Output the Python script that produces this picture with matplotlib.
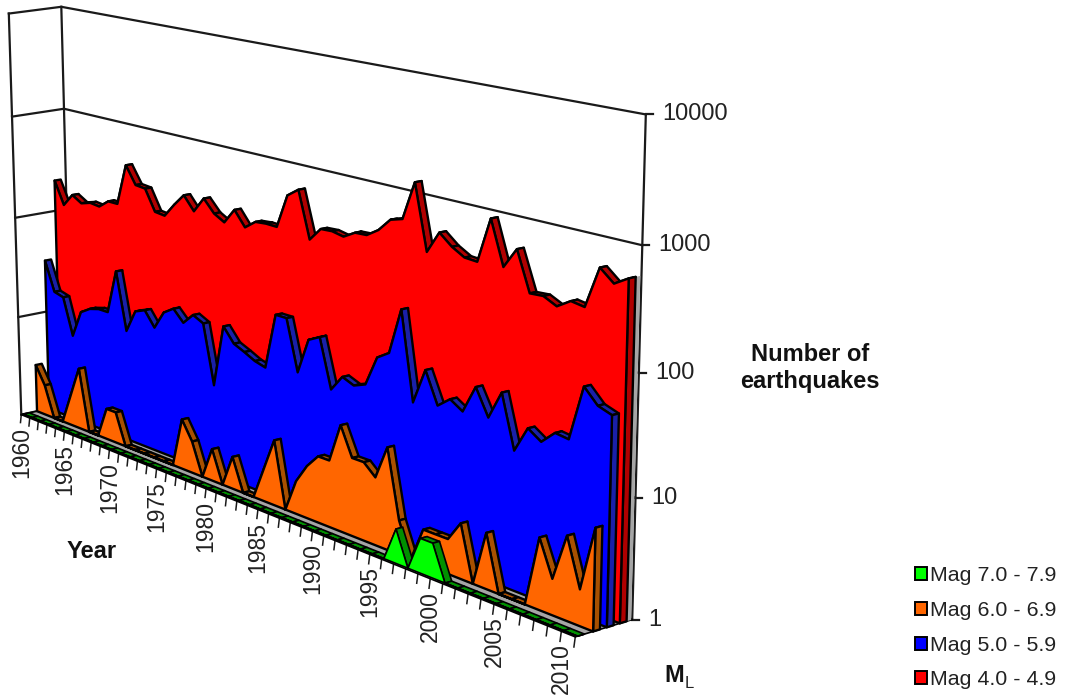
import numpy as np
import matplotlib
matplotlib.use('Agg')
from matplotlib import pyplot as plt
from matplotlib.patches import Patch

plt.rcParams['font.family'] = ['Liberation Sans', 'DejaVu Sans']

years = list(range(1960, 2012))
label_years = [1960, 1965, 1970, 1975, 1980, 1985, 1990, 1995, 2000, 2005, 2010]
count_ticks = [1, 10, 100, 1000, 10000]

mag7 = [1] * 37 + [2, 1, 2, 2] + [1] * 11
mag6 = [3, 2, 1, 1, 2, 4, 1, 1, 2, 2,
        1, 1, 1, 1, 1, 1, 3, 2, 1, 2,
        1, 2, 1, 1, 2, 4, 1, 2, 3, 4,
        4, 9, 5, 5, 4, 8, 2, 1, 2, 2,
        2, 3, 1, 3, 1, 1, 1, 4, 2, 5,
        2, 7]
mag5 = [33, 17, 16, 7, 13, 15, 16, 16, 43, 12,
        20, 22, 16, 24, 28, 22, 28, 25, 7, 27,
        20, 18, 16, 15, 49, 49, 17, 36, 41, 15,
        21, 19, 21, 39, 46, 117, 20, 41, 22, 27,
        23, 40, 24, 42, 15, 25, 21, 27, 26, 75,
        57, 52]
mag4 = [201, 121, 161, 141, 151, 147, 175, 175, 437, 298,
        291, 185, 180, 242, 315, 236, 329, 253, 222, 307,
        225, 268, 274, 272, 552, 656, 251, 331, 336, 320,
        368, 373, 438, 569, 612, 1323, 364, 564, 456, 395,
        388, 935, 399, 595, 278, 283, 250, 295, 283, 620,
        495, 581]

# (name, values, face, top, depth start, outline), drawn from the back to the front
series = [
    ('Mag 4.0 - 4.9', mag4, '#FF0000', '#B00000', 0.78, 1.7),
    ('Mag 5.0 - 5.9', mag5, '#0000FF', '#1A20A8', 0.55, 1.7),
    ('Mag 6.0 - 6.9', mag6, '#FF6600', '#A85000', 0.31, 1.7),
    ('Mag 7.0 - 7.9', mag7, '#00FF00', '#009000', 0.04, 1.2),
]
band = 0.12

# box corners (u year, v log count, w depth) against their place in the picture
box_uvw = [(0, 0, 0), (1, 0, 0), (0, 1, 0), (0, 0, 1), (1, 0, 1), (0, 1, 1),
           (1, 1, 1), (1, 0.75, 1), (1, 0.5, 1), (1, 0.25, 1), (25 / 51, 0, 0)]
box_px = [(23, 412), (575, 637), (9, 13), (71, 405), (633, 618), (61, 7),
          (646, 115), (642, 246), (639, 372), (636, 497), (256, 513)]


def fit_camera(uvw, px):
    rows, rhs = [], []
    for (u, v, w), (x, y) in zip(uvw, px):
        rows.append([u, v, w, 1, 0, 0, 0, 0, -x * u, -x * v, -x * w])
        rows.append([0, 0, 0, 0, u, v, w, 1, -y * u, -y * v, -y * w])
        rhs += [x, y]
    sol = np.linalg.lstsq(np.array(rows, float), np.array(rhs, float), rcond=None)[0]
    return np.append(sol, 1).reshape(3, 4)


camera = fit_camera(box_uvw, box_px)


def project(u, v, w):
    p = camera @ np.array([u, v, w, 1.0])
    return p[0] / p[2], p[1] / p[2]


def year_u(year):
    return (year - years[0]) / (years[-1] - years[0])


def count_v(count):
    return np.log10(count) / np.log10(count_ticks[-1])


def quad(ax, points, face, lw=1.7, z=1):
    ax.fill([project(*p)[0] for p in points], [project(*p)[1] for p in points],
            facecolor=face, edgecolor='black' if lw else face, linewidth=lw or 0,
            joinstyle='round', zorder=z)


def draw_walls(ax):
    quad(ax, [(0, 0, 0), (1, 0, 0), (1, 0, 1), (0, 0, 1)], '#A6A6A6', lw=1.2)
    line = dict(color='#1a1a1a', linewidth=1.6, zorder=0.5)
    for count in count_ticks:
        v = count_v(count)
        a, b, c = project(0, v, 0), project(0, v, 1), project(1, v, 1)
        ax.plot([a[0], b[0], c[0]], [a[1], b[1], c[1]], **line)
        ax.plot([c[0], c[0] + 7], [c[1], c[1]], **line)
        ax.text(c[0] + 16, c[1], str(count), fontsize=17, color='#222222',
                ha='left', va='center')
    for u, w in [(0, 0), (0, 1), (1, 1)]:
        a, b = project(u, 0, w), project(u, 1, w)
        ax.plot([a[0], b[0]], [a[1], b[1]], **line)
    for year in years:
        a, b = project(year_u(year), 0, 0), project(year_u(year), -0.02, -0.02)
        ax.plot([a[0], b[0]], [a[1], b[1]], color='#1a1a1a', linewidth=1.1, zorder=0.5)
    for year in label_years:
        x, y = project(year_u(year), 0, 0)
        ax.text(x, y + 12, str(year), fontsize=16.5, color='#222222', rotation=90,
                ha='center', va='top')


def draw_series(ax, values, face, top, w0, lw):
    w1 = w0 + band
    v = [count_v(c) for c in values]
    u = [year_u(y) for y in years]
    for i in range(len(u) - 1):
        quad(ax, [(u[i], v[i], w0), (u[i + 1], v[i + 1], w0),
                  (u[i + 1], v[i + 1], w1), (u[i], v[i], w1)], top, lw=lw, z=2)
    quad(ax, [(1, 0, w0), (1, v[-1], w0), (1, v[-1], w1), (1, 0, w1)], top, lw=lw, z=2)
    front = [(0, 0, w0)] + [(a, b, w0) for a, b in zip(u, v)] + [(1, 0, w0)]
    quad(ax, front, face, lw=lw, z=2)


fig = plt.figure(figsize=(10.65, 7), dpi=100)
ax = fig.add_axes([0, 0, 1, 1])
ax.set_xlim(0, 1065)
ax.set_ylim(700, 0)
ax.axis('off')

draw_walls(ax)
# pale strip behind the last series
end_v = count_v(mag4[-1])
quad(ax, [(1, 0, 0.90), (1, end_v, 0.90), (1, end_v, 0.98), (1, 0, 0.98)], '#A6A6A6', lw=0)
for name, values, face, top, w0, lw in series:
    draw_series(ax, values, face, top, w0, lw)

ax.text(810, 368, 'Number of\nearthquakes', fontsize=17, fontweight='bold',
        color='#111111', ha='center', va='center', linespacing=1.2)
ax.text(92, 551, 'Year', fontsize=17, fontweight='bold', color='#111111',
        ha='center', va='center')
ax.text(664, 675, 'M', fontsize=17, fontweight='bold', color='#111111',
        ha='left', va='center')
ax.text(685, 684, 'L', fontsize=12, color='#222222', ha='left', va='center')

handles = [Patch(facecolor=s[2], edgecolor='black', linewidth=1.4) for s in series[::-1]]
ax.legend(handles, [s[0] for s in series[::-1]], loc='upper left',
          bbox_to_anchor=(909 / 1065, 1 - 560 / 700), frameon=False, fontsize=15.4,
          labelcolor='#222222', handlelength=0.55, handleheight=0.55, handletextpad=0.15,
          labelspacing=0.73, borderpad=0.3, borderaxespad=0)

fig.savefig('out.png', dpi=100)
